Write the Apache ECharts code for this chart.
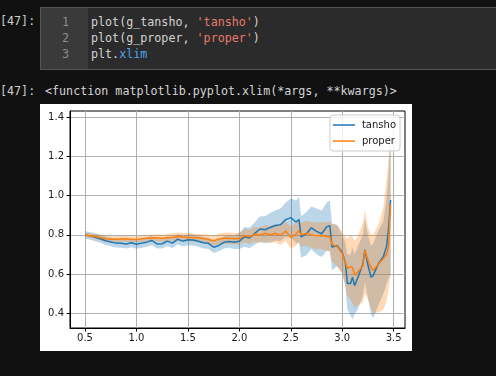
<!DOCTYPE html>
<html>
<head>
<meta charset="utf-8">
<script src="https://cdn.jsdelivr.net/npm/echarts@6.0.0/dist/echarts.min.js"></script>
<style>
  html, body { margin: 0; padding: 0; }
  body { width: 496px; height: 376px; overflow: hidden; background: #111111; position: relative;
         font-family: "DejaVu Sans Mono", "Liberation Mono", monospace; font-size: 11.7px; color: #d4d4d4; }
  .abs { position: absolute; white-space: pre; line-height: 16px; }
  .prompt { color: #cfcfcf; }
  #cell { position: absolute; left: 40px; top: 7px; width: 470px; height: 61px; background: #2b2b2b; border: 1px solid #555; }
  #gutter { position: absolute; left: 41px; top: 8px; width: 47px; height: 61px; background: #3a3a3a; }
  .ln { color: #8c8c8c; text-align: right; width: 12px; left: 57px; }
  .str { color: #e87a6e; }
  .attr { color: #4fa3e8; }
  #chart { position: absolute; left: 40px; top: 104px; width: 372px; height: 247px; background: #ffffff; }
</style>
</head>
<body>
<div class="abs prompt" style="left:0;top:13px;">[47]:</div>
<div id="cell"></div>
<div id="gutter"></div>
<div class="abs ln" style="top:14px;">1</div>
<div class="abs ln" style="top:30px;">2</div>
<div class="abs ln" style="top:46px;">3</div>
<div class="abs" style="left:91px;top:14px;">plot(g_tansho, <span class="str">'tansho'</span>)</div>
<div class="abs" style="left:91px;top:30px;">plot(g_proper, <span class="str">'proper'</span>)</div>
<div class="abs" style="left:91px;top:46px;">plt.<span class="attr">xlim</span></div>
<div class="abs prompt" style="left:0;top:83px;">[47]:</div>
<div class="abs" style="left:45px;top:83px;">&lt;function matplotlib.pyplot.xlim(*args, **kwargs)&gt;</div>
<div id="chart"></div>
<script>
// x positions of the samples
const xs = [0.5, 0.55, 0.6, 0.65, 0.7, 0.75, 0.8, 0.85, 0.9, 0.95,
  1.0, 1.05, 1.1, 1.15, 1.2, 1.25, 1.3, 1.35, 1.4, 1.45,
  1.5, 1.55, 1.6, 1.65, 1.7, 1.75, 1.8, 1.85, 1.9, 1.95,
  2.0, 2.05, 2.1, 2.15, 2.2, 2.25, 2.3, 2.35, 2.4, 2.45,
  2.5, 2.55, 2.58, 2.6, 2.65, 2.7, 2.75, 2.8, 2.85, 2.88,
  2.9, 2.95, 3.0, 3.03, 3.05, 3.08, 3.1, 3.12, 3.15, 3.2,
  3.22, 3.25, 3.28, 3.3, 3.35, 3.4, 3.43, 3.45, 3.47];

// tansho: mean line and confidence band
const tanshoMean = [0.800, 0.795, 0.788, 0.780, 0.770, 0.764, 0.758, 0.757, 0.754, 0.760,
  0.752, 0.758, 0.763, 0.771, 0.754, 0.755, 0.768, 0.758, 0.778, 0.768,
  0.775, 0.774, 0.768, 0.760, 0.757, 0.737, 0.746, 0.762, 0.766, 0.762,
  0.768, 0.790, 0.784, 0.808, 0.830, 0.826, 0.838, 0.848, 0.852, 0.878,
  0.888, 0.866, 0.878, 0.790, 0.805, 0.836, 0.818, 0.806, 0.842, 0.847,
  0.738, 0.745, 0.710, 0.660, 0.552, 0.552, 0.584, 0.541, 0.580, 0.650,
  0.725, 0.645, 0.584, 0.592, 0.652, 0.690, 0.740, 0.830, 0.978];
const tanshoHi = [0.818, 0.815, 0.808, 0.800, 0.792, 0.786, 0.780, 0.780, 0.777, 0.783,
  0.775, 0.781, 0.787, 0.795, 0.778, 0.779, 0.793, 0.784, 0.804, 0.795,
  0.803, 0.802, 0.796, 0.789, 0.786, 0.766, 0.776, 0.793, 0.798, 0.796,
  0.808, 0.840, 0.836, 0.865, 0.895, 0.895, 0.912, 0.925, 0.935, 0.965,
  0.985, 0.975, 0.995, 0.895, 0.915, 0.945, 0.935, 0.925, 0.965, 0.975,
  0.860, 0.850, 0.800, 0.760, 0.700, 0.700, 0.735, 0.700, 0.740, 0.800,
  0.880, 0.800, 0.745, 0.755, 0.820, 0.870, 0.980, 1.100, 1.360];
const tanshoLo = [0.782, 0.775, 0.768, 0.760, 0.748, 0.742, 0.736, 0.734, 0.731, 0.737,
  0.729, 0.735, 0.739, 0.747, 0.730, 0.731, 0.743, 0.732, 0.752, 0.741,
  0.747, 0.746, 0.740, 0.731, 0.728, 0.708, 0.716, 0.731, 0.734, 0.728,
  0.728, 0.740, 0.732, 0.751, 0.765, 0.757, 0.764, 0.771, 0.769, 0.791,
  0.791, 0.757, 0.761, 0.685, 0.695, 0.727, 0.701, 0.687, 0.719, 0.719,
  0.620, 0.640, 0.610, 0.540, 0.420, 0.390, 0.370, 0.395, 0.420, 0.490,
  0.560, 0.480, 0.395, 0.375, 0.440, 0.500, 0.550, 0.580, 0.600];

// proper: mean line and confidence band
const properMean = [0.800, 0.796, 0.792, 0.786, 0.780, 0.778, 0.778, 0.779, 0.780, 0.778,
  0.777, 0.780, 0.783, 0.784, 0.785, 0.783, 0.786, 0.788, 0.792, 0.789,
  0.788, 0.786, 0.785, 0.781, 0.776, 0.770, 0.779, 0.783, 0.783, 0.780,
  0.781, 0.796, 0.790, 0.804, 0.798, 0.808, 0.801, 0.808, 0.797, 0.820,
  0.786, 0.803, 0.822, 0.800, 0.808, 0.800, 0.795, 0.797, 0.792, 0.790,
  0.752, 0.740, 0.705, 0.660, 0.628, 0.640, 0.632, 0.595, 0.610, 0.640,
  0.722, 0.672, 0.635, 0.618, 0.650, 0.680, 0.700, 0.740, 0.955];
const properHi = [0.812, 0.808, 0.805, 0.800, 0.795, 0.793, 0.793, 0.795, 0.796, 0.794,
  0.793, 0.797, 0.800, 0.801, 0.802, 0.801, 0.804, 0.807, 0.812, 0.809,
  0.808, 0.806, 0.806, 0.803, 0.800, 0.795, 0.806, 0.812, 0.812, 0.809,
  0.811, 0.830, 0.826, 0.842, 0.838, 0.850, 0.845, 0.854, 0.845, 0.870,
  0.843, 0.862, 0.882, 0.862, 0.872, 0.866, 0.863, 0.866, 0.865, 0.868,
  0.856, 0.850, 0.815, 0.790, 0.780, 0.800, 0.790, 0.770, 0.790, 0.860,
  0.925, 0.840, 0.800, 0.800, 0.850, 0.940, 1.080, 1.180, 1.300];
const properLo = [0.788, 0.784, 0.779, 0.772, 0.765, 0.763, 0.763, 0.763, 0.764, 0.762,
  0.761, 0.763, 0.766, 0.767, 0.768, 0.765, 0.768, 0.769, 0.772, 0.769,
  0.768, 0.766, 0.764, 0.759, 0.752, 0.745, 0.752, 0.754, 0.754, 0.751,
  0.751, 0.762, 0.754, 0.766, 0.758, 0.766, 0.757, 0.762, 0.749, 0.770,
  0.729, 0.744, 0.762, 0.738, 0.744, 0.734, 0.727, 0.728, 0.719, 0.712,
  0.665, 0.640, 0.600, 0.540, 0.490, 0.470, 0.450, 0.430, 0.440, 0.455,
  0.500, 0.470, 0.420, 0.400, 0.405, 0.420, 0.460, 0.520, 0.590];

const xTicks = [0.5, 1.0, 1.5, 2.0, 2.5, 3.0, 3.5];
const yTicks = [0.4, 0.6, 0.8, 1.0, 1.2, 1.4];

const BLUE = '#1f77b4';
const ORANGE = '#ff7f0e';

function pairs(x, y) {
    return x.map((v, i) => [v, y[i]]);
}

// filled band between lo and hi, drawn as one polygon through the axes
function bandSeries(name, lo, hi, fill) {
    return {
        name: name,
        type: 'custom',
        silent: true,
        clip: true,
        encode: { x: 0, y: 1 },
        data: [[xs[0], lo[0]]],
        renderItem: (params, api) => {
            if (params.dataIndex !== 0) return;
            const pts = [];
            for (let i = 0; i < xs.length; i++) pts.push(api.coord([xs[i], hi[i]]));
            for (let i = xs.length - 1; i >= 0; i--) pts.push(api.coord([xs[i], lo[i]]));
            return { type: 'polygon', shape: { points: pts }, style: { fill: fill } };
        }
    };
}

function lineSeries(name, ys, color) {
    return {
        name: name,
        type: 'line',
        symbol: 'none',
        silent: true,
        lineStyle: { color: color, width: 1.5 },
        itemStyle: { color: color },
        data: pairs(xs, ys)
    };
}

const chart = echarts.init(document.getElementById('chart'), null, { renderer: 'canvas' });
const tickFont = { fontFamily: 'DejaVu Sans', fontSize: 10, color: '#1a1a1a' };

chart.setOption({
    animation: false,
    backgroundColor: '#ffffff',
    grid: { left: 30, top: 7, right: 7, bottom: 23, show: true, borderColor: '#000', borderWidth: 1, backgroundColor: 'transparent' },
    legend: {
        data: ['tansho', 'proper'],
        orient: 'vertical',
        right: 12,
        top: 11,
        padding: [4, 4, 4, 3],
        itemGap: 4,
        icon: 'rect',
        itemWidth: 22,
        itemHeight: 1.5,
        backgroundColor: 'rgba(255,255,255,0.8)',
        borderColor: '#cccccc',
        borderWidth: 1,
        borderRadius: 3,
        selectedMode: false,
        textStyle: { fontFamily: 'DejaVu Sans', fontSize: 10, color: '#1a1a1a', lineHeight: 12, padding: [0, 0, 0, 2] }
    },
    xAxis: {
        type: 'value',
        min: 0.354,
        max: 3.61,
        axisLine: { show: true, onZero: false, lineStyle: { color: '#000', width: 1 } },
        axisTick: { show: true, length: 3.5, customValues: xTicks, lineStyle: { color: '#000', width: 1 } },
        axisLabel: { customValues: xTicks, margin: 5, formatter: v => v.toFixed(1), ...tickFont },
        splitLine: { show: true, lineStyle: { color: '#b0b0b0', width: 1 } }
    },
    yAxis: {
        type: 'value',
        min: 0.325,
        max: 1.432,
        axisLine: { show: true, onZero: false, lineStyle: { color: '#000', width: 1 } },
        axisTick: { show: true, length: 3.5, customValues: yTicks, lineStyle: { color: '#000', width: 1 } },
        axisLabel: { customValues: yTicks, margin: 6, formatter: v => v.toFixed(1), ...tickFont },
        splitLine: { show: true, lineStyle: { color: '#b0b0b0', width: 1 } }
    },
    series: [
        bandSeries('tansho band', tanshoLo, tanshoHi, 'rgba(31,119,180,0.3)'),
        lineSeries('tansho', tanshoMean, BLUE),
        bandSeries('proper band', properLo, properHi, 'rgba(255,127,14,0.3)'),
        lineSeries('proper', properMean, ORANGE)
    ]
});
</script>
</body>
</html>
